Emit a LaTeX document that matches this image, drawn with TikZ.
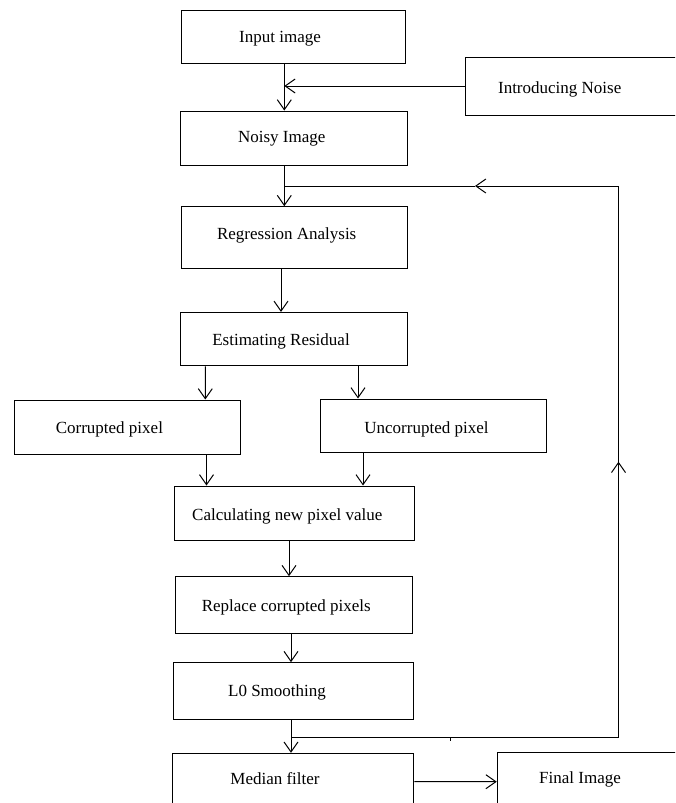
\documentclass[tikz,border=0pt]{standalone}
\usepackage{fontspec}
\setmainfont{Liberation Serif}
\usetikzlibrary{arrows.meta}

\begin{document}
\begin{tikzpicture}[x=1pt, y=-1pt, line width=1pt, >={Straight Barb[length=10pt, width=14pt]},
    box/.style={draw, inner sep=0pt},
    txt/.style={font=\fontsize{17}{20}\selectfont}]

    \useasboundingbox (0,0) rectangle (675,803);
    \clip (0,0) rectangle (675,803);

    % Draw rectangles
    \node (input) [box, minimum width=224pt, minimum height=53pt, label={[txt, xshift=-13.5pt, yshift=-2pt]center:Input image}] at (293.5,36.5) {};
    \node (noise) [box, minimum width=234.5pt, minimum height=58pt, label={[txt, xshift=-23pt, yshift=-3pt]center:Introducing Noise}] at (582.7,86) {};
    \node (noisy) [box, minimum width=227pt, minimum height=54.3pt, label={[txt, xshift=-12.5pt, yshift=-1pt]center:Noisy Image}] at (294.2,138.2) {};
    \node (regr) [box, minimum width=226pt, minimum height=61.6pt, label={[txt, xshift=-8pt, yshift=2pt]center:Regression Analysis}] at (294.7,237.5) {};
    \node (resid) [box, minimum width=227.4pt, minimum height=53.5pt, label={[txt, xshift=-13pt, yshift=-2pt]center:Estimating Residual}] at (294,339.2) {};
    \node (corr) [box, minimum width=226.2pt, minimum height=54pt, label={[txt, xshift=-18pt, yshift=-2.5pt]center:Corrupted pixel}] at (127.4,427) {};
    \node (uncorr) [box, minimum width=226pt, minimum height=53pt, label={[txt, xshift=-7pt, yshift=-3.5pt]center:Uncorrupted pixel}] at (433.5,425.5) {};
    \node (calc) [box, minimum width=240pt, minimum height=54pt, label={[txt, xshift=-6.7pt, yshift=-3pt]center:Calculating new pixel value}] at (294,513) {};
    \node (repl) [box, minimum width=237pt, minimum height=56.6pt, label={[txt, xshift=-7.2pt, yshift=-2pt]center:Replace corrupted pixels}] at (293.5,605) {};
    \node (lzero) [box, minimum width=240.7pt, minimum height=56.6pt, label={[txt, xshift=-16.6pt, yshift=-1pt]center:L0 Smoothing}] at (293.6,691) {};
    \node (median) [box, minimum width=241.3pt, minimum height=61.4pt, label={[txt, xshift=-18.3pt, yshift=5pt]center:Median filter}] at (293.3,784) {};
    \node (final) [box, minimum width=202.7pt, minimum height=62.7pt, label={[txt, xshift=-18.6pt, yshift=4.5pt]center:Final Image}] at (598.6,783.6) {};

    % Joints of the lines
    \coordinate (jn) at (284.3,86);
    \coordinate (fb1) at (618.5,186);
    \coordinate (fbtop) at (475,186);
    \coordinate (fb2) at (618.5,737);
    \coordinate (fbup) at (618.5,461.7);
    \coordinate (fb3) at (291,737);

    % Draw arrows
    \draw[->] (input.south -| jn) -- (noisy.north -| jn);
    \draw[->] (noise.west) -- (jn);
    \draw[->] (noisy.south -| jn) -- (regr.north -| jn);
    \draw[->] ([xshift=-13.7pt]regr.south) -- ([xshift=-13pt]resid.north);
    \draw[->] ([xshift=-88.7pt]resid.south) -- ([xshift=77.9pt]corr.north);
    \draw[->] ([xshift=64pt]resid.south) -- ([xshift=-75.5pt]uncorr.north);
    \draw[->] ([xshift=79.1pt]corr.south) -- ([xshift=-87.5pt]calc.north);
    \draw[->] ([xshift=-70.5pt]uncorr.south) -- ([xshift=69pt]calc.north);
    \draw[->] ([xshift=-5pt]calc.south) -- ([xshift=-4.5pt]repl.north);
    \draw[->] ([xshift=-2.5pt]repl.south) -- ([xshift=-2.6pt]lzero.north);
    \draw[->] ([xshift=-2.6pt]lzero.south) -- ([xshift=-2.3pt]median.north);
    \draw[->] ([yshift=2.3pt]median.east) -- ([yshift=1.9pt]final.west);

    % Feedback loop
    \draw[->] (fb3) -- (fb2) -- (fbup);
    \draw (fbup) -- (fb1);
    \draw[->] (fb1) -- (fbtop);
    \draw (fbtop) -- (fb1 -| jn);
    \draw (450,737) -- (450,741);

\end{tikzpicture}
\end{document}
